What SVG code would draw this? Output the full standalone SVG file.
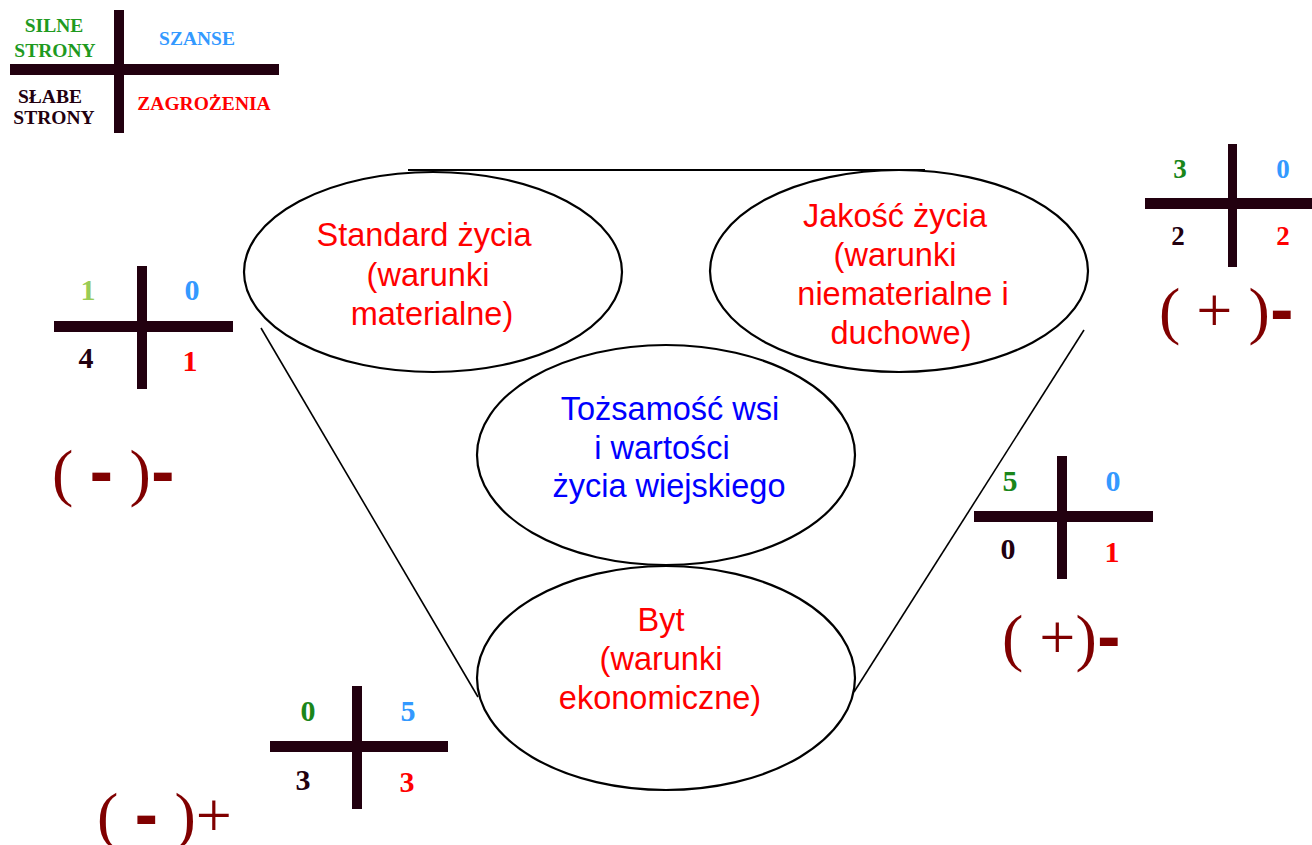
<svg xmlns="http://www.w3.org/2000/svg" width="1312" height="845" viewBox="0 0 1312 845">
<style>
.bar{fill:#22000f}
.ell{fill:none;stroke:#000;stroke-width:2.2}
.con{stroke:#000;stroke-width:1.6;fill:none}
.top{stroke-width:2.2}
.lt{font-family:"Liberation Serif","Times New Roman",serif;font-weight:bold;font-size:19.5px;text-anchor:middle}
.num{font-family:"Liberation Serif","Times New Roman",serif;font-weight:bold;font-size:30px;text-anchor:middle}
.num2{font-family:"Liberation Serif","Times New Roman",serif;font-weight:bold;font-size:27px;text-anchor:middle}
.sg{font-family:"Liberation Serif","Times New Roman",serif;font-size:64px;fill:#800000}
.hy{font-family:"DejaVu Sans",sans-serif;font-weight:bold;font-size:58px}
.et{font-family:"Liberation Sans",Arial,sans-serif;font-size:32.5px;text-anchor:middle}
.g{fill:#1f9a1f}.g2{fill:#1a861a}.lg{fill:#99cc55}.b{fill:#3399ff}.r{fill:#ff0000}.k{fill:#22000f}
</style>
<rect width="1312" height="845" fill="#fff"/>

<g id="legend">
<rect class="bar" x="114" y="10" width="10" height="123"/>
<rect class="bar" x="10" y="64" width="269" height="11"/>
<text class="lt g" x="54" y="32">SILNE</text>
<text class="lt g" x="55" y="57">STRONY</text>
<text class="lt b" x="197" y="45">SZANSE</text>
<text class="lt k" x="50" y="103">SŁABE</text>
<text class="lt k" x="54" y="124">STRONY</text>
<text class="lt r" x="204" y="110">ZAGROŻENIA</text>
</g>

<g id="connectors">
<line class="con top" x1="408" y1="170" x2="925" y2="170"/>
<line class="con" x1="261" y1="328" x2="478" y2="697"/>
<line class="con" x1="1084" y1="330" x2="854" y2="692"/>
</g>

<g id="node-standard">
<ellipse class="ell" cx="433" cy="272" rx="189" ry="100"/>
<text class="et r"><tspan x="424" y="246">Standard życia</tspan><tspan x="428" y="286">(warunki</tspan><tspan x="432" y="325">materialne)</tspan></text>
</g>

<g id="node-jakosc">
<ellipse class="ell" cx="899" cy="271" rx="189" ry="101"/>
<text class="et r"><tspan x="895" y="227">Jakość życia</tspan><tspan x="895" y="266">(warunki</tspan><tspan x="903" y="305">niematerialne i</tspan><tspan x="901" y="344">duchowe)</tspan></text>
</g>

<g id="node-tozsamosc">
<ellipse class="ell" cx="666" cy="455" rx="189" ry="110"/>
<text class="et" fill="#0000ff"><tspan x="670" y="420">Tożsamość wsi</tspan><tspan x="662" y="459">i wartości</tspan><tspan x="669" y="497">życia wiejskiego</tspan></text>
</g>

<g id="node-byt">
<ellipse class="ell" cx="666" cy="678" rx="189" ry="112"/>
<text class="et r"><tspan x="661" y="631">Byt</tspan><tspan x="661" y="670">(warunki</tspan><tspan x="660" y="709">ekonomiczne)</tspan></text>
</g>

<g id="swot-left">
<rect class="bar" x="137" y="266" width="10" height="123"/>
<rect class="bar" x="54" y="321" width="179" height="11"/>
<text class="num lg" x="88" y="300">1</text>
<text class="num b" x="192" y="300">0</text>
<text class="num k" x="86" y="368">4</text>
<text class="num r" x="190" y="371">1</text>
<text class="sg" x="52" y="494">( <tspan class="hy">-</tspan> )<tspan class="hy">-</tspan></text>
</g>

<g id="swot-topright">
<rect class="bar" x="1228" y="144" width="9" height="123"/>
<rect class="bar" x="1145" y="198" width="167" height="11"/>
<text class="num2 g2" x="1180" y="178">3</text>
<text class="num2 b" x="1283" y="178">0</text>
<text class="num2 k" x="1178" y="245">2</text>
<text class="num2 r" x="1283" y="245">2</text>
<text class="sg" x="1159" y="332">( + )<tspan class="hy">-</tspan></text>
</g>

<g id="swot-right">
<rect class="bar" x="1057" y="456" width="10" height="123"/>
<rect class="bar" x="974" y="511" width="179" height="11"/>
<text class="num g2" x="1010" y="491">5</text>
<text class="num b" x="1113" y="491">0</text>
<text class="num k" x="1008" y="559">0</text>
<text class="num r" x="1112" y="562">1</text>
<text class="sg" x="1002" y="659">( +)<tspan class="hy">-</tspan></text>
</g>

<g id="swot-bottom">
<rect class="bar" x="352" y="686" width="10" height="123"/>
<rect class="bar" x="270" y="741" width="178" height="11"/>
<text class="num g2" x="308" y="721">0</text>
<text class="num b" x="408" y="721">5</text>
<text class="num k" x="303" y="790">3</text>
<text class="num r" x="407" y="792">3</text>
<text class="sg" x="97" y="837">( <tspan class="hy">-</tspan> )+</text>
</g>
</svg>
